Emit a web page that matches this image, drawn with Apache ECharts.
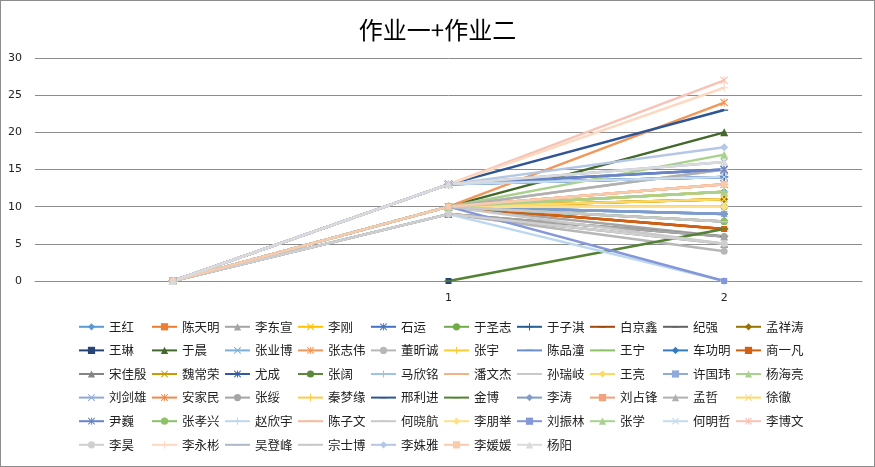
<!DOCTYPE html>
<html>
<head>
<meta charset="utf-8">
<script src="https://cdn.jsdelivr.net/npm/echarts@6/dist/echarts.min.js"></script>
<style>
  html, body { margin: 0; padding: 0; background: #fff; }
  #chart { width: 875px; height: 467px; box-sizing: border-box; border: 1px solid #8c8c8c; }
</style>
</head>
<body>
<div id="chart"></div>
<script>
const categories = ['', '1', '2']

const names = ['王红', '陈天明', '李东宣', '李刚', '石运', '于圣志', '于子淇', '白京鑫', '纪强', '孟祥涛',
  '王琳', '于晨', '张业博', '张志伟', '董昕诚', '张宇', '陈品潼', '王宁', '车功明', '商一凡',
  '宋佳殷', '魏常荣', '尤成', '张阔', '马欣铭', '潘文杰', '孙瑞岐', '王亮', '许国玮', '杨海亮',
  '刘剑雄', '安家民', '张绥', '秦梦缘', '邢利进', '金博', '李涛', '刘占锋', '孟哲', '徐徹',
  '尹巍', '张孝兴', '赵欣宇', '陈子文', '何晓航', '李朋举', '刘振林', '张学', '何明哲', '李博文',
  '李昊', '李永彬', '吴登峰', '宗士博', '李姝雅', '李媛媛', '杨阳']

// value at the first (blank) category
const start = [0, 0, 0, 0, 0, 0, 0, 0, 0, 0,
  null, 0, 0, 0, 0, 0, 0, 0, 0, 0,
  0, 0, 0, 0, 0, 0, 0, 0, 0, 0,
  0, 0, 0, 0, 0, null, 0, 0, 0, 0,
  0, 0, 0, 0, 0, 0, 0, 0, 0, 0,
  0, 0, 0, 0, 0, 0, 0]

// 作业一
const work1 = [10, 10, 10, 10, 13, 10, 13, 10, 9, 10,
  0, 10, 10, 10, 9, 10, 13, 10, 10, 10,
  9, 10, 13, 10, 10, 10, 10, 10, 10, 10,
  13, 10, 9, 10, 13, 0, 10, 10, 10, 10,
  13, 10, 9, 10, 10, 10, 10, 10, 13, 13,
  9, 13, 10, 10, 13, 10, 13]

// 作业二
const work2 = [12, 7, 6, 11, 14, 10, 14, 7, 6, 11,
  null, 20, 9, 24, 4, 12, 14, 12, 9, 7,
  5, 11, 15, 8, 10, 13, 15, 10, 9, 17,
  16, 13, 6, 12, 23, 7, 9, 13, 15, 11,
  15, 8, 0, 13, 5, 10, 0, 12, 14, 27,
  5, 26, 8, 8, 18, 13, 16]

const colors = ['#5B9BD5', '#ED7D31', '#A5A5A5', '#FFC000', '#4472C4', '#70AD47', '#255E91', '#9E480E', '#636363', '#997300',
  '#264478', '#43682B', '#7CAFDD', '#F1975A', '#B7B7B7', '#FFCD33', '#698ED0', '#8CC168', '#327DC2', '#D26012',
  '#848484', '#CC9A00', '#335AA1', '#5A8A39', '#9DC3E6', '#F4B183', '#C9C9C9', '#FFD966', '#8FAADC', '#A9D18E',
  '#8FA9D6', '#F08A4B', '#A5A5A5', '#FFC94A', '#2F5597', '#548235', '#7F9CC9', '#F4A07A', '#B0B0B0', '#FFD966',
  '#6A84C8', '#8CC168', '#BDD7EE', '#F8B9A0', '#C9C9C9', '#FFE08A', '#8497D8', '#A9D18E', '#C5DCF0', '#F8C3B5',
  '#CFCFCF', '#FCD9C0', '#ADB9CA', '#C8C8C8', '#B4C7E7', '#F8CBAD', '#DBDBDB']

// excel marker cycle: diamond, square, triangle, x, star, circle, plus, dash, dash
const X = 'path://M1,0 L5,4 L9,0 L10,1 L6,5 L10,9 L9,10 L5,6 L1,10 L0,9 L4,5 L0,1 Z'
const STAR = X + ' M4.4,0 L5.6,0 L5.6,10 L4.4,10 Z'
const PLUS = 'path://M4.3,0 L5.7,0 L5.7,4.3 L10,4.3 L10,5.7 L5.7,5.7 L5.7,10 L4.3,10 L4.3,5.7 L0,5.7 L0,4.3 L4.3,4.3 Z'
const DASH = 'path://M0,4.2 L10,4.2 L10,5.8 L0,5.8 Z M5,0 L5.01,0 L5,0.01 Z M5,10 L5.01,10 L5,9.99 Z'
const symbols = ['diamond', 'rect', 'triangle', X, STAR, 'circle', PLUS, DASH, DASH]
const sizes = [8, 6, 8, 7, 8, 7, 8, 8, 8]

const series = names.map((name, i) => ({
  name: name,
  type: 'line',
  data: [start[i], work1[i], work2[i]],
  symbol: symbols[i % 9],
  symbolSize: sizes[i % 9],
  showAllSymbol: true,
  connectNulls: false,
  lineStyle: { width: 2.5, color: colors[i] },
  itemStyle: { color: colors[i], borderWidth: 0 }
}))

const option = {
  animation: false,
  color: colors,
  title: {
    text: '作业一+作业二',
    left: 'center',
    top: 12,
    textStyle: { fontSize: 24, fontWeight: 'normal', color: '#000', fontFamily: 'Noto Sans CJK SC' }
  },
  legend: {
    data: names,
    left: 72,
    top: 311,
    width: 735,
    itemWidth: 25,
    itemHeight: 9,
    itemGap: 4,
    textStyle: { fontSize: 12.5, color: '#222', width: 38, lineHeight: 19.6, fontFamily: 'Noto Sans CJK SC' }
  },
  grid: { left: 34, right: 12, top: 57, bottom: 185 },
  xAxis: {
    type: 'category',
    data: categories,
    axisTick: { show: false },
    axisLine: { lineStyle: { color: '#8c8c8c', width: 1 } },
    axisLabel: { color: '#222', fontSize: 11, margin: 12, fontFamily: 'DejaVu Sans' }
  },
  yAxis: {
    type: 'value',
    min: 0,
    max: 30,
    interval: 5,
    axisLine: { show: false },
    axisTick: { show: false },
    axisLabel: { color: '#222', fontSize: 11, margin: 13, fontFamily: 'DejaVu Sans' },
    splitLine: { lineStyle: { color: '#8c8c8c', width: 1 } }
  },
  series: series
}

const myChart = echarts.init(document.getElementById('chart'))
myChart.setOption(option)
</script>
</body>
</html>
